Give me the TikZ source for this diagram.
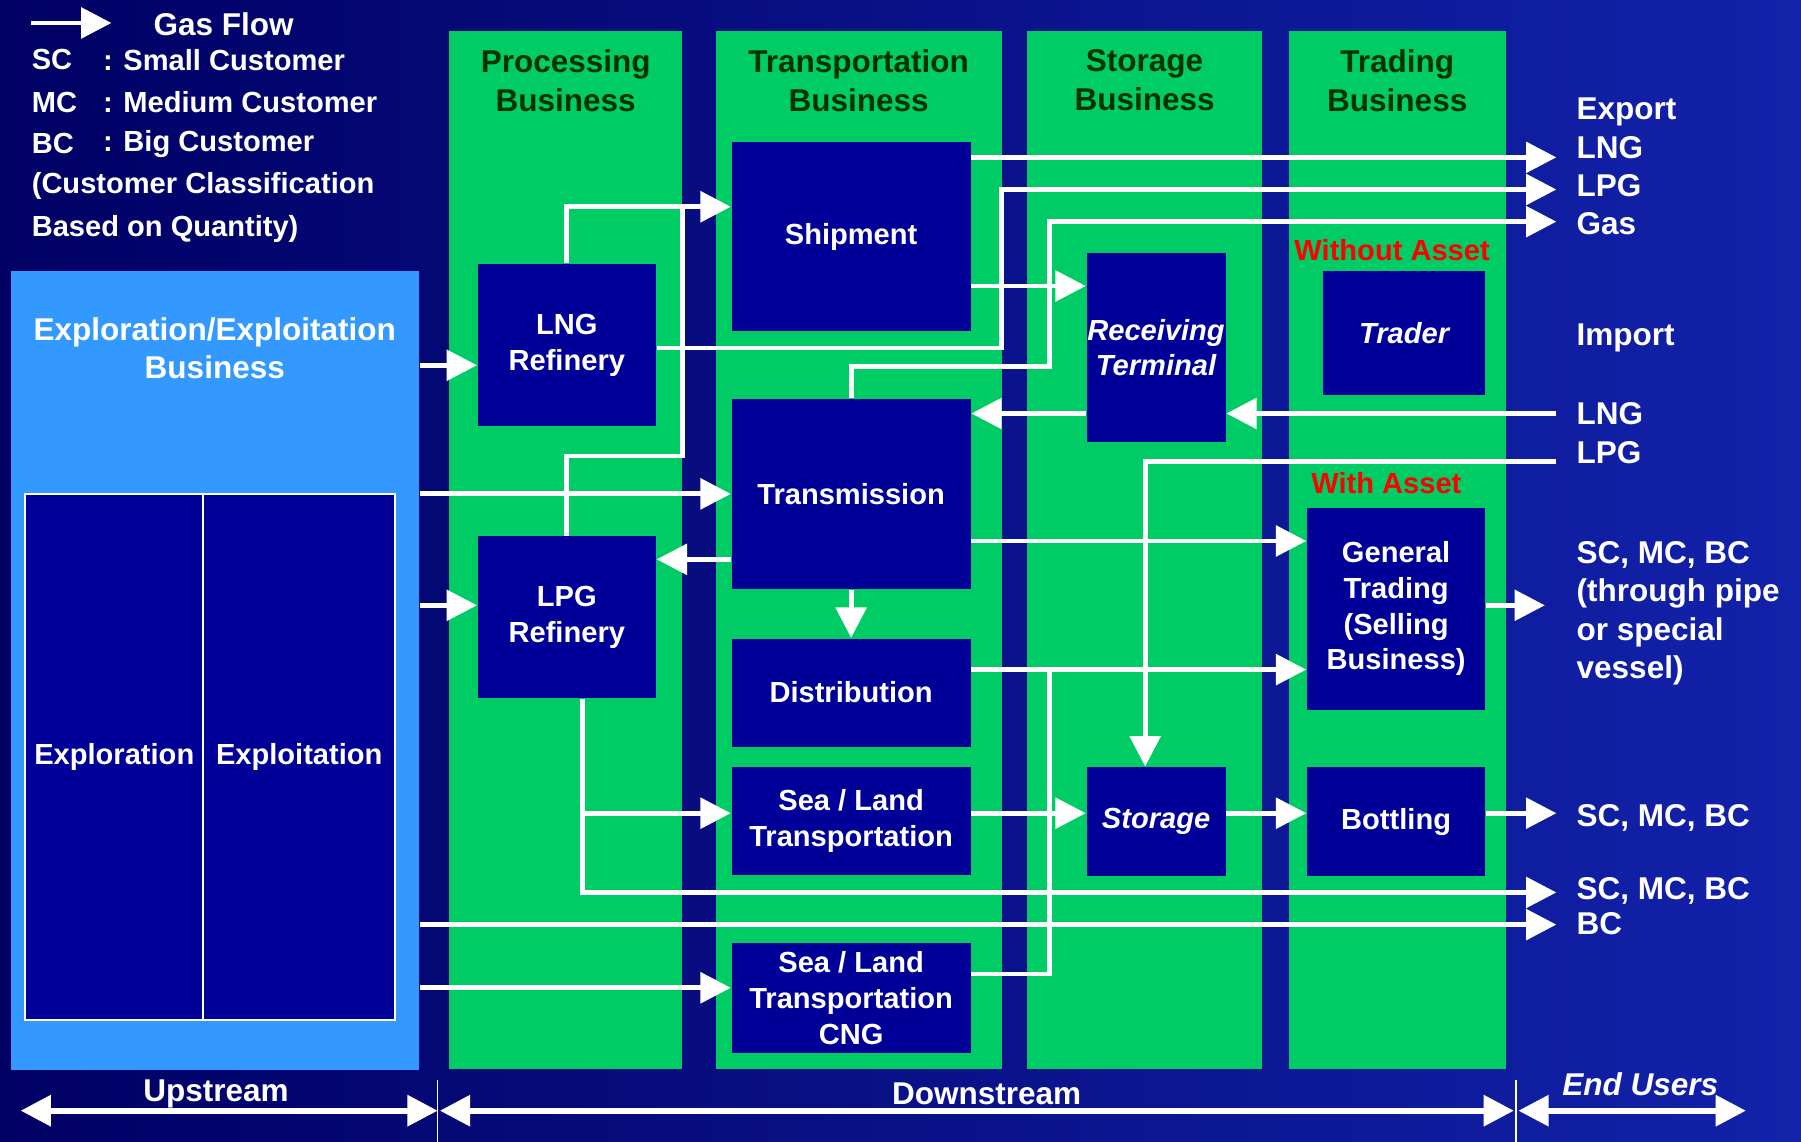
\documentclass[tikz,border=0pt]{standalone}
\usepackage{fontspec}
\setmainfont{Liberation Sans}
\usetikzlibrary{arrows.meta}

\definecolor{bgnavy}{RGB}{0,0,100}
\definecolor{bgblue}{RGB}{18,34,170}
\definecolor{colgreen}{RGB}{0,204,102}
\definecolor{upblue}{RGB}{51,153,255}
\definecolor{boxblue}{RGB}{0,0,153}
\definecolor{headgreen}{RGB}{0,51,0}

\newcommand{\bigtxt}{\bfseries\fontsize{7.8pt}{9.5pt}\selectfont}
\newcommand{\boxtxt}{\bfseries\fontsize{7.2pt}{8.8pt}\selectfont}

\tikzset{
  box/.style={fill=boxblue, text=white, font=\boxtxt, align=center, inner sep=0pt},
  head/.style={text=headgreen, font=\bfseries\fontsize{7.8pt}{9.7pt}\selectfont, align=center},
  whitetxt/.style={text=white, font=\bigtxt, align=center, inner sep=0pt},
  legtxt/.style={text=white, font=\boxtxt, anchor=west, inner sep=0pt},
  endtxt/.style={text=white, font=\bigtxt, anchor=west, align=left, inner sep=0pt},
  redtxt/.style={text=red, font=\boxtxt, inner sep=0pt},
  pipe/.style={draw=white, line width=1.2pt},
  flow/.style={pipe, -{Triangle[length=7.5pt,width=7.5pt]}},
  both/.style={draw=white, line width=1.4pt, {Triangle[length=7.5pt,width=7.5pt]}-{Triangle[length=7.5pt,width=7.5pt]}}
}

\begin{document}
\begin{tikzpicture}[x=0.01cm, y=-0.01cm]
\useasboundingbox (0,0) rectangle (1568,994);
\shade[left color=bgnavy, right color=bgblue] (0,0) rectangle (1568,994);

% legend
\coordinate (lgtail) at (27,20);
\coordinate (lghead) at (97,20);
\draw[flow] (lgtail) -- (lghead);
\node[text=white, font=\bigtxt, anchor=west, inner sep=0pt] (gasflow) at (133,21) {Gas Flow};
\foreach \ab/\txt/\y in {SC/Small Customer/52, MC/Medium Customer/89, BC/Big Customer/125}{
    \node[legtxt] (leg\ab) at (27,\y) {\ab};
    \node[legtxt] (def\ab) at (89,\y) {: \txt};
}
\node[legtxt] (legnote1) at (27,162) {(Customer Classification};
\node[legtxt] (legnote2) at (27,199) {Based on Quantity)};

% business columns
\foreach \nm/\xa/\xb/\title in {proc/391/594/Processing, transp/623/872/Transportation, stora/894/1099/Storage, trade/1122/1311/Trading}{
    \fill[colgreen] (\xa,27) rectangle (\xb,931);
    \node[head] (h\nm) at ({(\xa+\xb)/2},70) {\title\\Business};
}

% upstream
\node[fill=upblue, minimum width=3.55cm, minimum height=6.95cm, inner sep=0pt] (upbox) at (187.5,583.5) {};
\node[whitetxt] (uptitle) at (187,303) {Exploration/Exploitation\\Business};
\node[box, draw=white, line width=0.5pt, minimum width=1.55cm, minimum height=4.58cm] (explo) at (99.5,659) {Exploration};
\node[box, draw=white, line width=0.5pt, minimum width=1.67cm, minimum height=4.58cm] (exploit) at (260.5,659) {Exploitation};

% boxes
\node[box, minimum width=1.55cm, minimum height=1.41cm] (lngref) at (493.5,300.5) {LNG\\Refinery};
\node[box, minimum width=1.55cm, minimum height=1.41cm] (lpgref) at (493.5,537.5) {LPG\\Refinery};
\node[box, minimum width=2.08cm, minimum height=1.64cm] (ship) at (741,206) {Shipment};
\node[box, minimum width=2.08cm, minimum height=1.66cm] (trans) at (741,430) {Transmission};
\node[box, minimum width=2.08cm, minimum height=0.94cm] (dist) at (741,603) {Distribution};
\node[box, minimum width=2.08cm, minimum height=0.94cm] (sealand) at (741,715) {Sea / Land\\Transportation};
\node[box, minimum width=2.08cm, minimum height=0.96cm] (cng) at (741,869) {Sea / Land\\Transportation\\CNG};
\node[box, font=\boxtxt\itshape, minimum width=1.21cm, minimum height=1.65cm] (recv) at (1006.5,302.5) {Receiving\\Terminal};
\node[box, font=\boxtxt\itshape, minimum width=1.21cm, minimum height=0.95cm] (stor) at (1006.5,715.5) {Storage};
\node[box, font=\boxtxt\itshape, minimum width=1.41cm, minimum height=1.08cm] (trader) at (1222.5,290) {Trader};
\node[box, minimum width=1.55cm, minimum height=1.76cm] (gentrade) at (1215.5,530) {General\\Trading\\(Selling\\Business)};
\node[box, minimum width=1.55cm, minimum height=0.95cm] (bottle) at (1215.5,715.5) {Bottling};
\node[redtxt] (noasset) at (1212,218) {Without Asset};
\node[redtxt] (asset) at (1207,421) {With Asset};

% end users
\node[endtxt] (export) at (1372,145) {Export\\LNG\\LPG\\Gas};
\node[endtxt] (import) at (1372,294) {Import};
\node[endtxt] (imports) at (1372,377) {LNG\\LPG};
\node[endtxt] (pipeusr) at (1372,534) {SC, MC, BC\\(through pipe\\or special\\vessel)};
\node[endtxt] (bottleusr) at (1372,712) {SC, MC, BC};
\node[endtxt] (lpgusr) at (1372,776) {SC, MC, BC};
\node[endtxt] (bigusr) at (1372,804) {BC};

\coordinate (xlng) at (1355,137);
\coordinate (xlpg) at (1355,165);
\coordinate (xgas) at (1355,193);
\coordinate (ilng) at (1355,360);
\coordinate (ilpg) at (1355,402);
\coordinate (xsel) at (1345,527);
\coordinate (xbot) at (1355,708);
\coordinate (xlpgusr) at (1355,777);
\coordinate (xbc) at (1355,805);
\coordinate (lpgdrop) at ([xshift=3.8pt]lpgref.south);
\coordinate (stortop) at ([xshift=-2.7pt]stor.north);

% gas flow
\draw[flow] (upbox.east |- 0,318) -- (lngref.west |- 0,318);
\draw[flow] (upbox.east |- trans) -- (trans.west);
\draw[flow] (upbox.east |- 0,527) -- (lpgref.west |- 0,527);
\draw[flow] (upbox.east |- xbc) -- (xbc);
\draw[flow] (upbox.east |- 0,860) -- (cng.west |- 0,860);
\draw[flow] (lngref.north) |- (ship.west |- 0,180);
\draw[pipe] (lpgref.north) |- (594,397) -- (594,180);
\draw[flow] (lngref.east |- 0,303) -| (872,165) -- (xlpg);
\draw[flow] (ship.east |- xlng) -- (xlng);
\draw[flow] (ship.east |- 0,249) -- (recv.west |- 0,249);
\draw[flow] (trans.north) |- (914,319) |- (xgas);
\draw[flow] (ilng) -- (recv.east |- ilng);
\draw[flow] (recv.west |- ilng) -- (trans.east |- ilng);
\draw[flow] (ilpg) -| (stortop);
\draw[flow] (trans.west |- 0,487) -- (lpgref.east |- 0,487);
\draw[flow] (trans.south) -- (dist.north);
\draw[flow] (trans.east |- 0,471) -- (gentrade.west |- 0,471);
\draw[flow] (dist.east |- 0,583) -- (gentrade.west |- 0,583);
\draw[pipe] (cng.east |- 0,848) -| (914,583);
\draw[flow] (lpgdrop) |- (xlpgusr);
\draw[flow] (lpgdrop |- 0,708) -- (sealand.west |- 0,708);
\draw[flow] (sealand.east |- 0,708) -- (stor.west |- 0,708);
\draw[flow] (stor.east |- 0,708) -- (bottle.west |- 0,708);
\draw[flow] (bottle.east |- xbot) -- (xbot);
\draw[flow] (gentrade.east |- xsel) -- (xsel);

% streams
\coordinate (upL) at (18,967);
\coordinate (upR) at (381,967);
\coordinate (dnL) at (383,967);
\coordinate (dnR) at (1318,967);
\coordinate (euL) at (1322,967);
\coordinate (euR) at (1520,967);
\draw[both] (upL) -- (upR);
\draw[both] (dnL) -- (dnR);
\draw[both] (euL) -- (euR);
\draw[white, thin] (381,940) -- (381,994);
\draw[white, thin] (1320,940) -- (1320,994);
\node[whitetxt] (upstr) at (188,952) {Upstream};
\node[whitetxt] (downstr) at (859,952) {Downstream};
\node[whitetxt, font=\bigtxt\itshape] (endusr) at (1428,944) {End Users};
\end{tikzpicture}
\end{document}
